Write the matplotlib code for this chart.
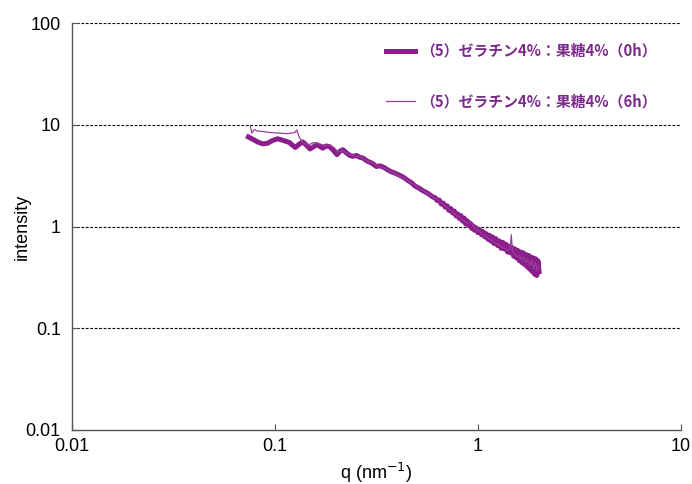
import matplotlib
matplotlib.use("Agg")
import matplotlib.pyplot as plt
from matplotlib.ticker import FixedLocator, NullLocator

plt.rcParams['font.family'] = ['Liberation Sans', 'DejaVu Sans']

# q (nm^-1) and intensity, 0h
q_0h = [0.074, 0.078, 0.082, 0.087, 0.092, 0.097, 0.103, 0.108, 0.113, 0.118,
        0.122, 0.126, 0.131, 0.137, 0.143, 0.149, 0.155, 0.161, 0.167, 0.172,
        0.179, 0.186, 0.194, 0.202, 0.209, 0.216, 0.225, 0.234, 0.242, 0.252,
        0.262, 0.272, 0.285, 0.300, 0.316, 0.330, 0.345, 0.360, 0.375, 0.390,
        0.410, 0.430, 0.450, 0.470, 0.490, 0.510, 0.535, 0.560, 0.580, 0.600,
        0.615, 0.630, 0.645, 0.660, 0.675, 0.690, 0.705, 0.720, 0.735, 0.750,
        0.765, 0.780, 0.795, 0.810, 0.825, 0.840, 0.855, 0.870, 0.885, 0.900,
        0.915, 0.930, 0.945, 0.960, 0.980, 1.000, 1.020, 1.040, 1.060, 1.080,
        1.100, 1.120, 1.140, 1.160, 1.180, 1.200, 1.225, 1.250, 1.275, 1.300,
        1.325, 1.350, 1.375, 1.400, 1.425, 1.450, 1.475, 1.500, 1.525, 1.550,
        1.575, 1.600, 1.625, 1.650, 1.675, 1.700, 1.725, 1.750, 1.775, 1.800,
        1.825, 1.850, 1.875, 1.900, 1.925, 1.950, 1.975, 2.000]
I_0h = [7.6, 7.2, 6.8, 6.5, 6.6, 7.0, 7.3, 7.1, 6.9, 6.7,
        6.3, 6.0, 6.4, 6.8, 6.3, 5.8, 6.1, 6.4, 6.1, 5.9,
        6.2, 6.1, 5.6, 5.1, 5.5, 5.7, 5.3, 5.0, 4.9, 5.0,
        4.8, 4.7, 4.4, 4.2, 3.9, 3.95, 3.8, 3.6, 3.45, 3.35,
        3.2, 3.05, 2.85, 2.7, 2.5, 2.4, 2.25, 2.15, 2.05, 1.95,
        1.92, 1.80, 1.82, 1.66, 1.70, 1.55, 1.60, 1.44, 1.50, 1.36,
        1.42, 1.27, 1.33, 1.20, 1.28, 1.13, 1.21, 1.06, 1.14, 1.02,
        1.08, 0.96, 1.02, 0.92, 0.97, 0.87, 0.93, 0.83, 0.89, 0.79,
        0.85, 0.75, 0.82, 0.72, 0.79, 0.68, 0.76, 0.65, 0.72, 0.61,
        0.70, 0.60, 0.67, 0.56, 0.64, 0.55, 0.62, 0.51, 0.60, 0.49,
        0.58, 0.46, 0.56, 0.44, 0.55, 0.42, 0.53, 0.40, 0.52, 0.38,
        0.50, 0.36, 0.49, 0.34, 0.48, 0.33, 0.46, 0.36]

# 6h
q_6h = [0.0755, 0.0770, 0.0790, 0.0820, 0.0870, 0.0950, 0.1050, 0.1150, 0.1250, 0.1280,
        0.1320, 0.1360, 0.1450, 0.1550, 0.1650, 0.1750, 0.1850, 0.1950, 0.2050, 0.2150,
        0.2250, 0.2400, 0.2550, 0.2700, 0.2850, 0.3000, 0.3200, 0.3400, 0.3600, 0.3800,
        0.4000, 0.4300, 0.4600, 0.4900, 0.5200, 0.5500, 0.5800, 0.6100, 0.6500, 0.6900,
        0.7300, 0.7700, 0.8100, 0.8500, 0.8900, 0.9300, 0.9600, 1.0000, 1.0400, 1.0800,
        1.1200, 1.1600, 1.2000, 1.2500, 1.3000, 1.3500, 1.4000, 1.4400, 1.4600, 1.4800,
        1.5200, 1.5600, 1.6000, 1.6400, 1.6800, 1.7200, 1.7600, 1.8000, 1.8400, 1.8800,
        1.9200, 1.9600, 2.0000]
I_6h = [9.8, 8.3, 9.0, 8.7, 8.6, 8.4, 8.3, 8.2, 8.4, 8.9,
        7.5, 6.8, 6.3, 6.7, 6.5, 6.3, 6.3, 6.0, 5.4, 5.6,
        5.3, 5.0, 4.9, 4.75, 4.45, 4.2, 3.95, 3.8, 3.6, 3.4,
        3.2, 3.0, 2.75, 2.55, 2.35, 2.2, 2.05, 1.9, 1.75, 1.58,
        1.45, 1.33, 1.23, 1.14, 1.07, 1.12, 0.97, 0.92, 0.86, 0.82,
        0.77, 0.74, 0.70, 0.67, 0.63, 0.61, 0.58, 0.60, 0.83, 0.56,
        0.54, 0.50, 0.52, 0.47, 0.50, 0.44, 0.47, 0.41, 0.46, 0.38,
        0.44, 0.37, 0.41]

labels = ['（5）ゼラチン4%：果糖4%（0h）', '（5）ゼラチン4%：果糖4%（6h）']
y_ticks = [0.01, 0.1, 1, 10, 100]
y_ticklabels = ['0.01', '0.1', '1', '10', '100']
x_ticks = [0.01, 0.1, 1, 10]
x_ticklabels = ['0.01', '0.1', '1', '10']

fig = plt.figure(figsize=(6.92, 4.84), dpi=100)
ax = fig.add_axes([0.104, 0.112, 0.880, 0.840])

c0 = '#8A1F8C'
c6 = '#9A3C9E'
ax.plot(q_0h, I_0h, color=c0, lw=3.6, solid_joinstyle='round', label=labels[0], zorder=3)
ax.plot(q_6h, I_6h, color=c6, lw=0.9, label=labels[1], zorder=4)

ax.set_xscale('log')
ax.set_yscale('log')
ax.set_xlim(0.01, 10)
ax.set_ylim(0.01, 100)
ax.xaxis.set_major_locator(FixedLocator(x_ticks))
ax.yaxis.set_major_locator(FixedLocator(y_ticks))
ax.xaxis.set_minor_locator(NullLocator())
ax.yaxis.set_minor_locator(NullLocator())
ax.set_xticklabels(x_ticklabels)
ax.set_yticklabels(y_ticklabels)
ax.tick_params(direction='in', length=4, width=0.8, color='#555555', labelsize=13,
               labelcolor='black')
ax.tick_params(axis='x', pad=6)
ax.tick_params(axis='y', pad=8)

for y in [0.1, 1, 10, 100]:
    ax.axhline(y, color='black', lw=0.8, ls=(0, (2.5, 1.5)), zorder=1)

for s in ['top', 'right']:
    ax.spines[s].set_visible(False)
for s in ['left', 'bottom']:
    ax.spines[s].set_color('#555555')
    ax.spines[s].set_linewidth(1.0)

ax.set_xlabel('q (nm$^{-1}$)', fontsize=13, labelpad=4)
ax.set_ylabel('intensity', fontsize=13)
ax.yaxis.set_label_coords(-0.068, 0.5)

leg = ax.legend(loc='upper left', bbox_to_anchor=(0.493, 0.985), frameon=False,
                prop={'family': ['Noto Sans CJK JP', 'DejaVu Sans'], 'size': 10.7, 'weight': 'bold'},
                handlelength=2.0, handletextpad=0.3, labelspacing=2.35)
for t in leg.get_texts():
    t.set_color('#7B2B8B')

fig.savefig('out.png', dpi=100)
